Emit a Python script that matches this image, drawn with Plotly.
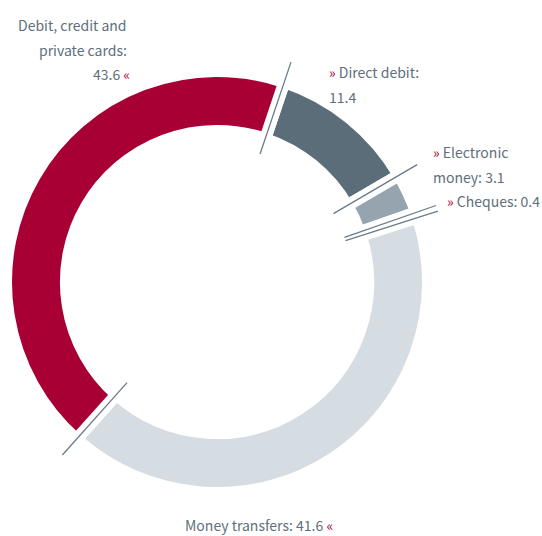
import math
import plotly.graph_objects as go

# Payment instruments, share of transactions (%)
categories = ["Direct debit", "Electronic money", "Cheques", "Money transfers",
              "Debit, credit and private cards"]
shares = [11.4, 3.1, 0.4, 41.6, 43.6]
colors = ["#5b6d79", "#95a4ae", "#95a4ae", "#d5dce2", "#a80035"]

W, H = 542, 536
CX, CY = 217, 282          # ring centre in pixels (from top-left)
R_OUT = 211                # outer radius before the white gap stroke
HOLE = 0.716
GAP = 12                   # white separation between slices, px
ROT = 18.6                 # start angle, degrees clockwise from 12 o'clock
LINE_IN, LINE_OUT = 135, 232
TEXT = "#5e6f7b"
ACCENT = "#a80035"
FONT = "Noto Sans CJK SC, Lato, sans-serif"
FS = 14

fig = go.Figure(go.Pie(
    labels=categories,
    values=shares,
    sort=False,
    direction="clockwise",
    rotation=ROT,
    hole=HOLE,
    textinfo="none",
    hoverinfo="label+value",
    marker=dict(colors=colors, line=dict(color="white", width=GAP)),
    domain=dict(x=[(CX - R_OUT) / W, (CX + R_OUT) / W],
                y=[(H - CY - R_OUT) / H, (H - CY + R_OUT) / H]),
    showlegend=False,
))


def px_to_paper(x, y):
    return x / W, (H - y) / H


# thin separators across each gap, at the slice boundaries
total = sum(shares)
cum = 0.0
for v in shares:
    cum += v
    a = math.radians(ROT + 360.0 * cum / total)
    x0, y0 = px_to_paper(CX + LINE_IN * math.sin(a), CY - LINE_IN * math.cos(a))
    x1, y1 = px_to_paper(CX + LINE_OUT * math.sin(a), CY - LINE_OUT * math.cos(a))
    fig.add_shape(type="line", xref="paper", yref="paper",
                  x0=x0, y0=y0, x1=x1, y1=y1,
                  line=dict(color="#6b7c88", width=1.3))

raq = f"<span style='color:{ACCENT}'>»</span>"
laq = f"<span style='color:{ACCENT}'>«</span>"
fmt = lambda v: f"{v:.1f}"

# one annotation per text line: (text, x, baseline y, anchor)
lines = [
    ("Debit, credit and", 128, 30, "right"),
    ("private cards:", 128, 55, "right"),
    (f"{fmt(shares[4])} {laq}", 131, 79, "right"),
    (f"{raq} Direct debit:", 328, 77, "left"),
    (fmt(shares[0]), 328, 102, "left"),
    (f"{raq} Electronic", 432, 157, "left"),
    (f"money: {fmt(shares[1])}", 432, 182, "left"),
    (f"{raq} Cheques: {fmt(shares[2])}", 446, 206, "left"),
    (f"Money transfers: {fmt(shares[3])} {laq}", 259, 530, "center"),
]
for text, x, base, xa in lines:
    px, py = px_to_paper(x, base - 0.36 * FS)
    fig.add_annotation(text=text, x=px, y=py, xref="paper", yref="paper",
                       xanchor=xa, yanchor="middle", showarrow=False,
                       borderpad=0, font=dict(family=FONT, size=FS, color=TEXT))

fig.update_layout(width=W, height=H, margin=dict(l=0, r=0, t=0, b=0),
                  paper_bgcolor="white", plot_bgcolor="white")
fig.write_html("out.html")
